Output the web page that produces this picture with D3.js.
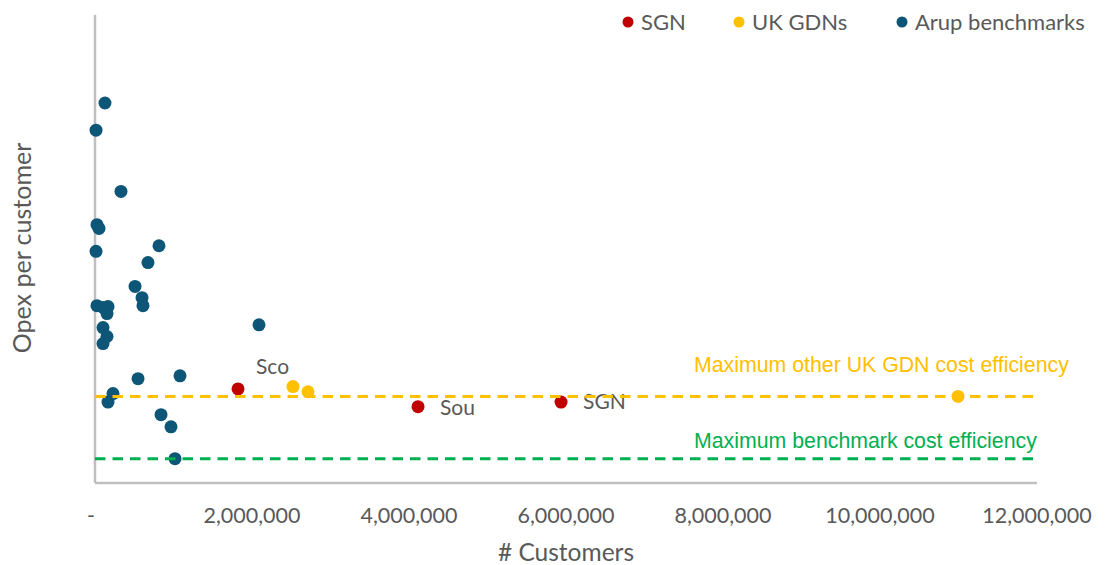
<!DOCTYPE html>
<html>
<head>
<meta charset="utf-8">
<script src="https://cdn.jsdelivr.net/npm/d3@7"></script>
<style>
  html, body { margin: 0; padding: 0; background: #ffffff; }
  svg { display: block; }
</style>
</head>
<body>
<svg id="chart" width="1110" height="565"></svg>
<script>
// ---- Data (x = # customers, y = opex per customer, arbitrary units: axis labels hidden) ----
const sgnX = [1822000, 4115000, 5937000];
const sgnY = [20.1, 16.3, 17.3];
const sgnLabels = ["Sco", "Sou", "SGN"];

const gdnX = [2522000, 2713000, 10994000];
const gdnY = [20.6, 19.5, 18.5];

const arupX = [127000, 13000, 331000, 25000, 51000, 13000, 815000, 675000, 510000, 599000,
               611000, 25000, 102000, 166000, 153000, 102000, 153000, 102000, 2089000, 1083000,
               548000, 229000, 166000, 841000, 968000, 1019000];
const arupY = [81.2, 75.4, 62.3, 55.2, 54.4, 49.5, 50.7, 47.1, 42.0, 39.6,
               37.9, 37.9, 37.5, 37.7, 36.2, 33.2, 31.3, 29.8, 33.8, 22.9,
               22.3, 19.1, 17.3, 14.6, 12.0, 5.2];

const xTicks = [0, 2000000, 4000000, 6000000, 8000000, 10000000, 12000000];
const yDomain = [0, 100];

const refLines = [
  { name: "Maximum other UK GDN cost efficiency", value: 18.5, color: "#FFC000" },
  { name: "Maximum benchmark cost efficiency", value: 5.2, color: "#00B050" }
];

const legendItems = ["SGN", "UK GDNs", "Arup benchmarks"];
const colors = { "SGN": "#C00000", "UK GDNs": "#FFC000", "Arup benchmarks": "#0E5677" };

// ---- Layout ----
const svg = d3.select("#chart");
const mLeft = 95, mRight = 1037, mTop = 15, mBottom = 483;
const x = d3.scaleLinear().domain([0, 12000000]).range([mLeft, mRight]);
const y = d3.scaleLinear().domain(yDomain).range([mBottom, mTop]);

const textColor = "#595959";
const font = "Lato, 'Open Sans', sans-serif";

// Axes lines
svg.append("line").attr("x1", mLeft).attr("x2", mLeft).attr("y1", mTop).attr("y2", mBottom)
  .attr("stroke", "#BFBFBF").attr("stroke-width", 2.5);
svg.append("line").attr("x1", mLeft).attr("x2", mRight).attr("y1", mBottom).attr("y2", mBottom)
  .attr("stroke", "#BFBFBF").attr("stroke-width", 2.5);

// X tick labels
const fmt = d => d === 0 ? "-" : d3.format(",")(d);
svg.append("g").selectAll("text").data(xTicks).join("text")
  .attr("x", d => x(d) + (d === 0 ? -4 : 0))
  .attr("y", 523)
  .attr("text-anchor", "middle")
  .attr("font-family", font).attr("font-size", 21.5)
  .attr("fill", textColor)
  .text(fmt);

// Axis titles
svg.append("text").attr("x", 566).attr("y", 561).attr("text-anchor", "middle")
  .attr("font-family", font).attr("font-size", 24.5).attr("fill", textColor)
  .text("# Customers");
svg.append("text").attr("transform", "translate(31,248) rotate(-90)").attr("text-anchor", "middle")
  .attr("font-family", font).attr("font-size", 25).attr("fill", textColor)
  .text("Opex per customer");

// Points
const r = 6.5;
function drawSeries(xs, ys, color) {
  svg.append("g").selectAll("circle").data(xs.map((v, i) => [v, ys[i]])).join("circle")
    .attr("cx", d => x(d[0])).attr("cy", d => y(d[1])).attr("r", r)
    .attr("fill", color);
}
drawSeries(sgnX, sgnY, colors["SGN"]);
drawSeries(gdnX, gdnY, colors["UK GDNs"]);
drawSeries(arupX, arupY, colors["Arup benchmarks"]);

// SGN data labels
const labelOffsets = [[18, -15], [22, 8], [22, 7]];
svg.append("g").selectAll("text").data(sgnLabels).join("text")
  .attr("x", (d, i) => x(sgnX[i]) + labelOffsets[i][0])
  .attr("y", (d, i) => y(sgnY[i]) + labelOffsets[i][1])
  .attr("font-family", font).attr("font-size", 21).attr("fill", textColor)
  .text(d => d);

// Reference dashed lines
const refLabelOffsets = [24, 11];
refLines.forEach((rl, i) => {
  svg.append("line").attr("x1", mLeft).attr("x2", mRight)
    .attr("y1", y(rl.value)).attr("y2", y(rl.value))
    .attr("stroke", rl.color).attr("stroke-width", 3)
    .attr("stroke-dasharray", "10.5,7");
  svg.append("text").attr("x", 694).attr("y", y(rl.value) - refLabelOffsets[i])
    .attr("font-family", "'Liberation Sans', Arial, sans-serif").attr("font-size", 21.3)
    .attr("fill", rl.color).text(rl.name);
});

// Legend
const legendX = [628, 739, 902];
const lg = svg.append("g");
legendItems.forEach((name, i) => {
  lg.append("circle").attr("cx", legendX[i]).attr("cy", 22).attr("r", 5.5).attr("fill", colors[name]);
  lg.append("text").attr("x", legendX[i] + 13).attr("y", 29.5)
    .attr("font-family", font).attr("font-size", 22).attr("fill", textColor).text(name);
});
</script>
</body>
</html>
